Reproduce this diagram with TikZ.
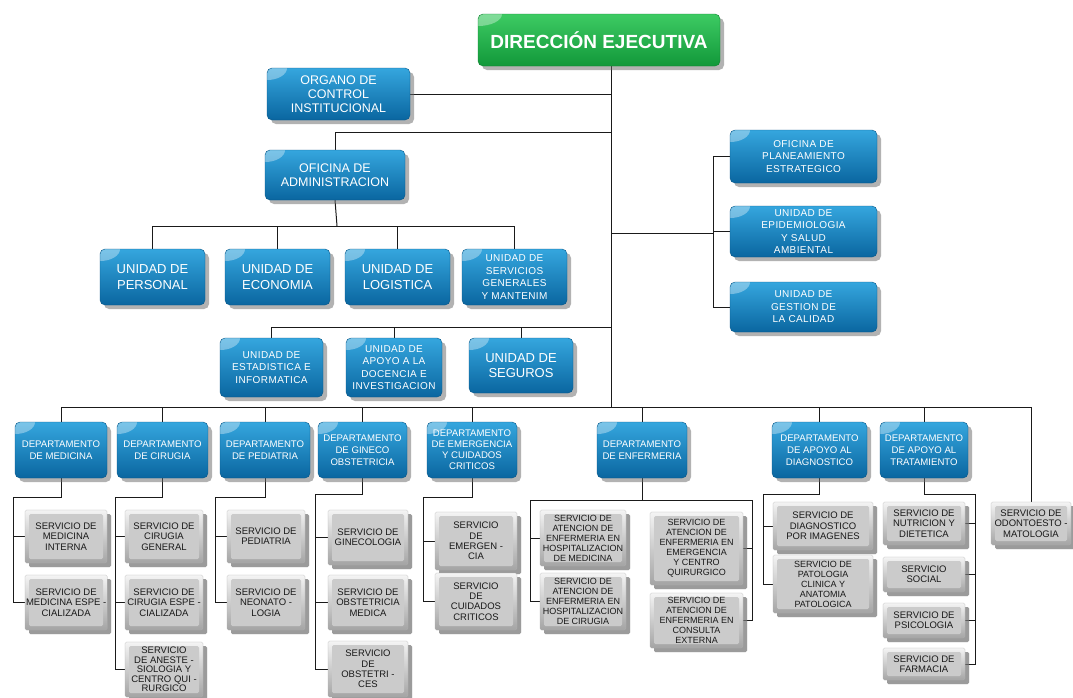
\documentclass[tikz,border=0pt]{standalone}
\usepackage{fontspec}
\setmainfont{Liberation Sans}
\newfontfamily\spacedfont[LetterSpace=4]{Liberation Sans}
\usetikzlibrary{shadows,calc,backgrounds}
\definecolor{bluetop}{HTML}{35A6DE}
\definecolor{bluebot}{HTML}{0A66A0}
\definecolor{greentop}{HTML}{3DCB63}
\definecolor{greenbot}{HTML}{12983A}
\definecolor{graytop}{HTML}{F4F4F4}
\definecolor{graybot}{HTML}{A4A4A4}
\definecolor{graymid}{HTML}{CBCBCB}
\definecolor{linecol}{HTML}{1A1A1A}
\tikzset{
  sz/.style 2 args={minimum width=#1pt, minimum height=#2pt},
  boxbase/.style={anchor=north west, outer sep=0pt, inner sep=1pt, align=center,
    drop shadow={shadow xshift=4pt, shadow yshift=-4pt, fill=black!60, opacity=0.5}},
  bluebox/.style={boxbase, rounded corners=5pt, top color=bluetop, bottom color=bluebot,
    draw=bluebot!85!black, line width=0.4pt, text=white,
    path picture={\fill[white,opacity=0.35] (path picture bounding box.north west) ellipse (20pt and 12pt);}},
  dirbox/.style={boxbase, rounded corners=5pt, top color=greentop, bottom color=greenbot,
    draw=greenbot!85!black, line width=0.4pt, text=white,
    font=\fontsize{19}{21}\selectfont\bfseries,
    path picture={\fill[white,opacity=0.35] (path picture bounding box.north west) ellipse (24pt and 12pt);}},
  graybox/.style={boxbase, rounded corners=1.5pt, top color=graytop, bottom color=graybot,
    draw=black!30, line width=0.3pt, text=black!90,
    font=\fontsize{9.5}{10.3}\selectfont,
    drop shadow={shadow xshift=4pt, shadow yshift=-4pt, fill=black!50, opacity=0.45},
    path picture={\fill[graymid] ([shift={(4,4)}]path picture bounding box.north west) rectangle ([shift={(-4,-4)}]path picture bounding box.south east);}},
  fsmall/.style={font=\fontsize{9}{10}\selectfont},
  ftwelve/.style={font=\fontsize{12.5}{14}\selectfont},
  fthirteen/.style={font=\fontsize{13}{15.5}\selectfont},
  fspaced/.style={font=\spacedfont\fontsize{10}{12.5}\selectfont},
  deptbox/.style={bluebox, font=\fontsize{9.6}{12}\selectfont, minimum height=56pt},
  conn/.style={draw=linecol, line width=1pt},
}
\begin{document}
\begin{tikzpicture}[x=1pt,y=-1pt]
\useasboundingbox (0,0) rectangle (1073,697);

% ---- top level
\node[dirbox, sz={242}{52}] (dir) at (478,14) {DIRECCIÓN EJECUTIVA};
\node[bluebox, ftwelve, sz={143}{52}] (oci) at (267,68) {ORGANO DE\\CONTROL\\INSTITUCIONAL};
\node[bluebox, ftwelve, sz={140}{50}] (oa) at (265,150) {OFICINA DE\\ADMINISTRACION};

% ---- administration units
\node[bluebox, fthirteen, sz={105}{56}] (up) at (100,249) {UNIDAD DE\\PERSONAL};
\node[bluebox, fthirteen, sz={105}{56}] (ue) at (225,249) {UNIDAD DE\\ECONOMIA};
\node[bluebox, fthirteen, sz={105}{56}] (ul) at (345,249) {UNIDAD DE\\LOGISTICA};
\node[bluebox, fspaced, sz={105}{56}] (us) at (462,249) {UNIDAD DE\\SERVICIOS\\GENERALES\\Y MANTENIM};

% ---- second row units
\node[bluebox, fspaced, sz={103}{59}] (uei) at (220,338) {UNIDAD DE\\ESTADISTICA E\\INFORMATICA};
\node[bluebox, fspaced, sz={96}{59}] (uad) at (346,338) {UNIDAD DE\\APOYO A LA\\DOCENCIA E\\INVESTIGACION};
\node[bluebox, fthirteen, sz={104}{55}] (useg) at (469,338) {UNIDAD DE\\SEGUROS};

% ---- right side units
\node[bluebox, fspaced, sz={147}{53}] (ope) at (730,130) {OFICINA DE\\PLANEAMIENTO\\ESTRATEGICO};
\node[bluebox, fspaced, sz={147}{51}] (uepi) at (730,206) {UNIDAD DE\\EPIDEMIOLOGIA\\Y SALUD\\AMBIENTAL};
\node[bluebox, fspaced, sz={147}{50}] (ugc) at (730,282) {UNIDAD DE\\GESTION DE\\LA CALIDAD};

% ---- departments
\node[deptbox, minimum width=92pt] (dm) at (15,422) {DEPARTAMENTO\\DE MEDICINA};
\node[deptbox, minimum width=91pt] (dc) at (117,422) {DEPARTAMENTO\\DE CIRUGIA};
\node[deptbox, minimum width=90pt] (dp) at (220,422) {DEPARTAMENTO\\DE PEDIATRIA};
\node[deptbox, minimum width=89pt] (dg) at (318,422) {DEPARTAMENTO\\DE GINECO\\OBSTETRICIA};
\node[deptbox, minimum width=90pt, font=\fontsize{9.6}{11}\selectfont] (de) at (427,422) {DEPARTAMENTO\\DE EMERGENCIA\\Y CUIDADOS\\CRITICOS};
\node[deptbox, minimum width=90pt] (den) at (597,422) {DEPARTAMENTO\\DE ENFERMERIA};
\node[deptbox, minimum width=95pt] (dad) at (772,422) {DEPARTAMENTO\\DE APOYO AL\\DIAGNOSTICO};
\node[deptbox, minimum width=88pt] (dat) at (880,422) {DEPARTAMENTO\\DE APOYO AL\\TRATAMIENTO};

% ---- services
\node[graybox, sz={82}{53}] (sm1) at (25,510) {SERVICIO DE\\MEDICINA\\INTERNA};
\node[graybox, sz={82}{55}] (sm2) at (25,575) {SERVICIO DE\\MEDICINA ESPE -\\CIALIZADA};

\node[graybox, sz={78}{53}] (sc1) at (125,510) {SERVICIO DE\\CIRUGIA\\GENERAL};
\node[graybox, sz={78}{55}] (sc2) at (125,575) {SERVICIO DE\\CIRUGIA ESPE -\\CIALIZADA};
\node[graybox, sz={78}{55}, font=\fontsize{9.5}{9.5}\selectfont] (sc3) at (125,642) {SERVICIO\\DE ANESTE -\\SIOLOGIA Y\\CENTRO QUI -\\RURGICO};

\node[graybox, sz={78}{53}] (sp1) at (227,510) {SERVICIO DE\\PEDIATRIA};
\node[graybox, sz={78}{55}] (sp2) at (227,575) {SERVICIO DE\\NEONATO -\\LOGIA};

\node[graybox, sz={80}{55}] (sg1) at (328,510) {SERVICIO DE\\GINECOLOGIA};
\node[graybox, sz={80}{55}] (sg2) at (328,575) {SERVICIO DE\\OBSTETRICIA\\MEDICA};
\node[graybox, sz={80}{56}] (sg3) at (328,641) {SERVICIO\\DE\\OBSTETRI -\\CES};

\node[graybox, sz={82}{58}] (se1) at (435,512) {SERVICIO\\DE\\EMERGEN -\\CIA};
\node[graybox, sz={82}{57}] (se2) at (435,573) {SERVICIO\\DE\\CUIDADOS\\CRITICOS};

\node[graybox, fsmall, sz={86}{56}] (sn1) at (540,510) {SERVICIO DE\\ATENCION DE\\ENFERMERIA EN\\HOSPITALIZACION\\DE MEDICINA};
\node[graybox, fsmall, sz={86}{57}] (sn2) at (540,573) {SERVICIO DE\\ATENCION DE\\ENFERMERIA EN\\HOSPITALIZACION\\DE CIRUGIA};
\node[graybox, fsmall, sz={93}{73}] (sn3) at (650,512) {SERVICIO DE\\ATENCION DE\\ENFERMERIA EN\\EMERGENCIA\\Y CENTRO\\QUIRURGICO};
\node[graybox, fsmall, sz={93}{55}] (sn4) at (650,593) {SERVICIO DE\\ATENCION DE\\ENFERMERIA EN\\CONSULTA\\EXTERNA};

\node[graybox, sz={100}{48}] (sd1) at (773,502) {SERVICIO DE\\DIAGNOSTICO\\POR IMAGENES};
\node[graybox, sz={100}{58}, fsmall] (sd2) at (773,555) {SERVICIO DE\\PATOLOGIA\\CLINICA Y\\ANATOMIA\\PATOLOGICA};

\node[graybox, sz={82}{43}] (st1) at (883,502) {SERVICIO DE\\NUTRICION Y\\DIETETICA};
\node[graybox, sz={82}{35}] (st2) at (883,557) {SERVICIO\\SOCIAL};
\node[graybox, sz={82}{35}] (st3) at (883,603) {SERVICIO DE\\PSICOLOGIA};
\node[graybox, sz={82}{32}] (st4) at (883,648) {SERVICIO DE\\FARMACIA};

\node[graybox, sz={80}{43}] (so) at (991,502) {SERVICIO DE\\ODONTOESTO -\\MATOLOGIA};

% ---- connector coordinates
\coordinate (tt) at (611,66);
\coordinate (tb) at (611,407);
\coordinate (j1) at (611,132);
\coordinate (bus1) at (337,226);
\coordinate (bus2) at (611,327);
\coordinate (rj) at (611,233);
\coordinate (rb) at (713,233);
\coordinate (bm) at (13,497);
\coordinate (bc) at (115,497);
\coordinate (bp) at (215,497);
\coordinate (bg) at (315,494);
\coordinate (be) at (423,497);
\coordinate (bnl) at (530,500);
\coordinate (bnr) at (752,500);
\coordinate (bd) at (763,494);
\coordinate (bt) at (975,494);

\begin{pgfonlayer}{background}
\fill[white] (0,0) rectangle (1073,697);
% trunk
\draw[conn] (tt) -- (tb);
\draw[conn] (oci.east) -- (oci.east -| tt);
\draw[conn] (j1) -| (oa.north);
% admin units
\draw[conn] (oa.south) -- (bus1);
\draw[conn] (up.north) -- (up.north |- bus1) -- (us.north |- bus1) -- (us.north);
\draw[conn] (ue.north) -- (ue.north |- bus1);
\draw[conn] (ul.north) -- (ul.north |- bus1);
% second row units
\draw[conn] (uei.north) -- (uei.north |- bus2) -- (bus2);
\draw[conn] (uad.north) -- (uad.north |- bus2);
\draw[conn] (useg.north) -- (useg.north |- bus2);
% right side
\draw[conn] (rj) -- (rb);
\draw[conn] (ope.west) -- (ope.west -| rb) -- (ugc.west -| rb) -- (ugc.west);
\draw[conn] (uepi.west) -- (uepi.west -| rb);
% department bus
\draw[conn] (dm.north) -- (dm.north |- tb) -- (so.north |- tb) -- (so.north);
\foreach \d in {dc,dp,dg,de,den,dad,dat} {\draw[conn] (\d.north) -- (\d.north |- tb);}
% medicina
\draw[conn] (dm.south) -- (dm.south |- bm) -- (bm) -- (bm |- sm2.west) -- (sm2.west);
\draw[conn] (sm1.west) -- (sm1.west -| bm);
% cirugia
\draw[conn] (dc.south) -- (dc.south |- bc) -- (bc) -- (bc |- sc3.west) -- (sc3.west);
\draw[conn] (sc1.west) -- (sc1.west -| bc);
\draw[conn] (sc2.west) -- (sc2.west -| bc);
% pediatria
\draw[conn] (dp.south) -- (dp.south |- bp) -- (bp) -- (bp |- sp2.west) -- (sp2.west);
\draw[conn] (sp1.west) -- (sp1.west -| bp);
% gineco
\draw[conn] (dg.south) -- (dg.south |- bg) -- (bg) -- (bg |- sg3.west) -- (sg3.west);
\draw[conn] (sg1.west) -- (sg1.west -| bg);
\draw[conn] (sg2.west) -- (sg2.west -| bg);
% emergencia
\draw[conn] (de.south) -- (de.south |- be) -- (be) -- (be |- se2.west) -- (se2.west);
\draw[conn] (se1.west) -- (se1.west -| be);
% enfermeria
\draw[conn] (den.south) -- (den.south |- bnl);
\draw[conn] (sn2.west) -- (sn2.west -| bnl) -- (bnl) -- (bnr) -- (bnr |- sn4.east) -- (sn4.east);
\draw[conn] (sn1.west) -- (sn1.west -| bnl);
\draw[conn] (sn3.east) -- (sn3.east -| bnr);
% apoyo diagnostico
\draw[conn] (dad.south) -- (dad.south |- bd) -- (bd) -- (bd |- sd2.west) -- (sd2.west);
\draw[conn] (sd1.west) -- (sd1.west -| bd);
% apoyo tratamiento
\draw[conn] (dat.south) -- (dat.south |- bt) -- (bt) -- (bt |- st4.east) -- (st4.east);
\foreach \s in {st1,st2,st3} {\draw[conn] (\s.east) -- (\s.east -| bt);}
\end{pgfonlayer}
\end{tikzpicture}
\end{document}
